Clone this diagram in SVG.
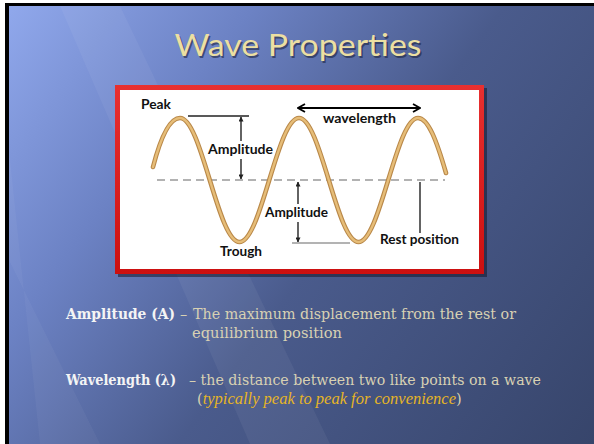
<svg xmlns="http://www.w3.org/2000/svg" width="594" height="444" viewBox="0 0 594 444">
<defs>
<linearGradient id="bg" gradientUnits="userSpaceOnUse" x1="0" y1="0" x2="594" y2="444">
<stop offset="0" stop-color="#92aaee"/>
<stop offset="0.28" stop-color="#6c82c4"/>
<stop offset="0.55" stop-color="#4a5b8c"/>
<stop offset="1" stop-color="#37456b"/>
</linearGradient>
<linearGradient id="red" x1="0" y1="0" x2="0" y2="1">
<stop offset="0" stop-color="#e83030"/>
<stop offset="1" stop-color="#cc1010"/>
</linearGradient>
<marker id="chev" viewBox="0 0 10 10" refX="9" refY="5" markerWidth="10" markerHeight="10" markerUnits="userSpaceOnUse" orient="auto-start-reverse">
<path d="M2,1 L9,5 L2,9" fill="none" stroke="#000" stroke-width="1.8"/>
</marker>
<marker id="sa" viewBox="0 0 6 6" refX="5.5" refY="3" markerWidth="5" markerHeight="5" markerUnits="userSpaceOnUse" orient="auto-start-reverse">
<path d="M0,0 L6,3 L0,6 z" fill="#222"/>
</marker>
</defs>
<style>
.lbl{font-family:Lato,"Liberation Sans",sans-serif;font-weight:700;font-size:13px;fill:#111}
.body{font-family:"DejaVu Serif","Liberation Serif",serif;font-size:14.5px}
.b{font-weight:700;fill:#f4f4f4}
.n{fill:#d8d1b3}
.it{font-family:"Liberation Serif",serif;font-size:16.5px;font-style:italic;fill:#e6b526}
.blk{stroke:#222;stroke-width:1.4;fill:none}
.gry{stroke:#9a9a9a;stroke-width:1.6;fill:none}
</style>
<rect x="0" y="0" width="594" height="444" fill="#ffffff"/>
<rect x="5" y="3" width="589" height="441" fill="#000"/>
<rect x="9" y="6" width="585" height="438" fill="url(#bg)"/>
<polygon points="60,6 120,6 330,444 250,444" fill="#ffffff" opacity="0.05"/>
<polygon points="9,150 9,260 100,444 40,444" fill="#ffffff" opacity="0.04"/>

<g id="title">
<text x="298" y="56" text-anchor="middle" font-family="Lato,'Liberation Sans',sans-serif" font-size="31" fill="#1e2540" opacity="0.6" textLength="247" lengthAdjust="spacingAndGlyphs" transform="translate(1.5,1.5)">Wave Properties</text>
<text x="298" y="56" text-anchor="middle" font-family="Lato,'Liberation Sans',sans-serif" font-size="31" fill="#ecdfa2" textLength="247" lengthAdjust="spacingAndGlyphs">Wave Properties</text>
</g>

<g id="frame">
<rect x="118" y="88" width="369" height="189" fill="#15182a" opacity="0.55"/>
<rect x="115" y="85" width="369" height="189" fill="url(#red)"/>
<rect x="120" y="90" width="359" height="179" fill="#ffffff"/>
</g>

<g id="rest-line">
<line x1="157" y1="180" x2="445" y2="180" stroke="#999" stroke-width="1.6" stroke-dasharray="8,5"/>
</g>

<g id="wave">
<path d="M153,167 C160,140 169,118 180,118 C190.77,118 200.05,148.24 209.75,180 C219.45,211.76 228.73,242 239.5,242 C250.27,242 259.55,211.76 269.25,180 C278.95,148.24 288.23,118 299,118 C309.77,118 319.05,148.24 328.75,180 C338.45,211.76 347.73,242 358.5,242 C369.27,242 378.55,211.76 388.25,180 C397.950,148.24 407.23,118 418,118 C428.5,118 437,142 446,173" fill="none" stroke="#b98849" stroke-width="4.6" stroke-linecap="round"/>
<path d="M153,167 C160,140 169,118 180,118 C190.77,118 200.05,148.24 209.75,180 C219.45,211.76 228.73,242 239.5,242 C250.27,242 259.55,211.76 269.25,180 C278.95,148.24 288.23,118 299,118 C309.77,118 319.05,148.24 328.75,180 C338.45,211.76 347.73,242 358.5,242 C369.27,242 378.55,211.76 388.25,180 C397.95,148.24 407.23,118 418,118 C428.5,118 437,142 446,173" fill="none" stroke="#e6bd78" stroke-width="2.4" stroke-linecap="round"/>
</g>

<g id="connectors">
<line class="blk" x1="188" y1="116" x2="249" y2="116"/>
<line class="blk" x1="241" y1="117" x2="241" y2="141" marker-start="url(#sa)"/>
<line class="blk" x1="241" y1="159" x2="241" y2="179" marker-end="url(#sa)"/>
<line class="blk" x1="298" y1="182" x2="298" y2="204" marker-start="url(#sa)"/>
<line class="blk" x1="298" y1="222" x2="298" y2="242" marker-end="url(#sa)"/>
<line class="gry" x1="292" y1="243" x2="350" y2="243"/>
<line class="blk" x1="420" y1="182" x2="420" y2="233" stroke-width="1.6"/>
<line x1="298" y1="108" x2="420" y2="108" stroke="#000" stroke-width="1.8" marker-start="url(#chev)" marker-end="url(#chev)"/>
</g>

<g id="labels">
<text class="lbl" x="141" y="109" textLength="30" lengthAdjust="spacingAndGlyphs">Peak</text>
<text class="lbl" x="323" y="123" textLength="73" lengthAdjust="spacingAndGlyphs">wavelength</text>
<text class="lbl" x="208" y="154" textLength="65" lengthAdjust="spacingAndGlyphs">Amplitude</text>
<text class="lbl" x="265" y="217" textLength="63" lengthAdjust="spacingAndGlyphs">Amplitude</text>
<text class="lbl" x="220" y="256" textLength="42" lengthAdjust="spacingAndGlyphs">Trough</text>
<text class="lbl" x="380" y="244" textLength="79" lengthAdjust="spacingAndGlyphs">Rest position</text>
</g>

<g id="definitions">
<text class="body" y="319"><tspan class="b" x="66" textLength="109" lengthAdjust="spacingAndGlyphs">Amplitude (A)</tspan><tspan class="n" x="180">–</tspan><tspan class="n" x="193" textLength="323" lengthAdjust="spacingAndGlyphs">The maximum displacement from the rest or</tspan></text>
<text class="body" y="338"><tspan class="n" x="192" textLength="150" lengthAdjust="spacingAndGlyphs">equilibrium position</tspan></text>
<text class="body" y="385"><tspan class="b" x="66" textLength="110" lengthAdjust="spacingAndGlyphs">Wavelength (λ)</tspan><tspan class="n" x="189" textLength="352" lengthAdjust="spacingAndGlyphs">– the distance between two like points on a wave</tspan></text>
<text class="body" x="197" y="404"><tspan class="n">(</tspan><tspan class="it">typically peak to peak for convenience</tspan><tspan class="n">)</tspan></text>
</g>
</svg>
